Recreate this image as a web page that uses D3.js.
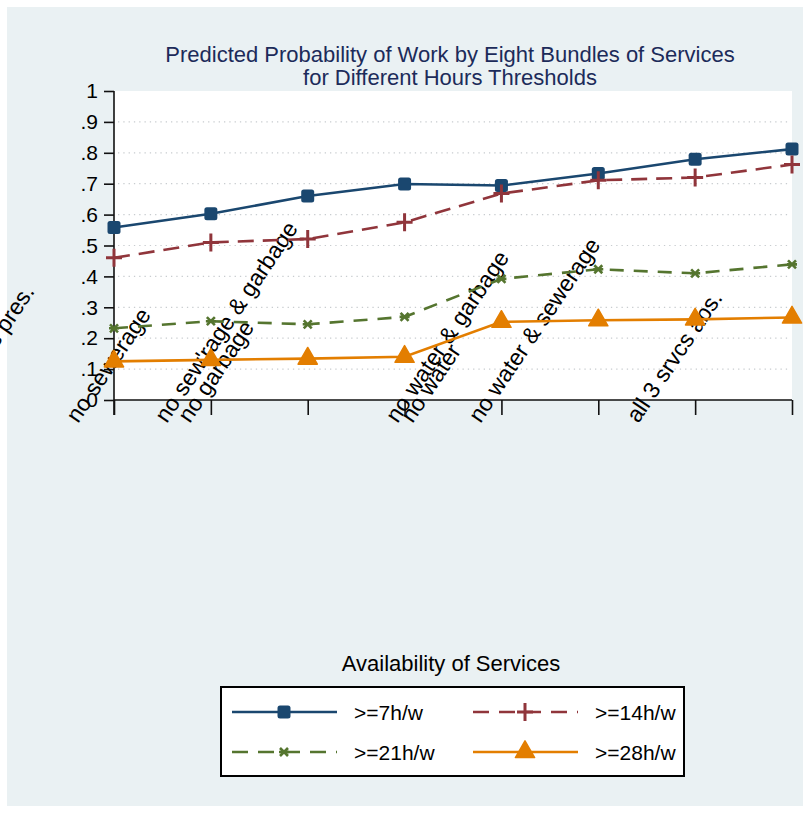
<!DOCTYPE html>
<html>
<head>
<meta charset="utf-8">
<script src="https://cdn.jsdelivr.net/npm/d3@7"></script>
<style>
  body { margin: 0; background: #ffffff; }
  text { font-family: "Liberation Sans", Arial, sans-serif; }
</style>
</head>
<body>
<div id="chart"></div>
<script>
// categories on the x axis (labels came out scrambled in the original export)
const categories = ["all 3 srvcs pres.", "no sewerage", "no garbage", "no sew'rage & garbage",
                    "no water", "no water & garbage", "no water & sewerage", "all 3 srvcs abs."];
const hrs7  = [0.558, 0.603, 0.660, 0.699, 0.694, 0.733, 0.779, 0.812];
const hrs14 = [0.460, 0.510, 0.521, 0.575, 0.668, 0.711, 0.720, 0.762];
const hrs21 = [0.232, 0.255, 0.245, 0.269, 0.392, 0.423, 0.410, 0.439];
const hrs28 = [0.125, 0.130, 0.134, 0.140, 0.253, 0.258, 0.261, 0.267];
const seriesNames = [">=7h/w", ">=14h/w", ">=21h/w", ">=28h/w"];
const yTicks = [0, 0.1, 0.2, 0.3, 0.4, 0.5, 0.6, 0.7, 0.8, 0.9, 1];
const yTickLabels = ["0", ".1", ".2", ".3", ".4", ".5", ".6", ".7", ".8", ".9", "1"];

const W = 809, H = 813;
const plot = {left: 114, right: 792, top: 91, bottom: 400};

const svg = d3.select("#chart").append("svg")
  .attr("width", W).attr("height", H);

// graph region
svg.append("rect").attr("x", 7).attr("y", 7).attr("width", 796).attr("height", 799)
  .attr("fill", "#eaf1f3");
svg.append("rect").attr("x", plot.left).attr("y", plot.top)
  .attr("width", plot.right - plot.left).attr("height", plot.bottom - plot.top)
  .attr("fill", "#ffffff");

const x = d3.scalePoint().domain(d3.range(categories.length)).range([plot.left, plot.right]);
const y = d3.scaleLinear().domain([0, 1]).range([plot.bottom, plot.top]);

// grid
svg.append("g").selectAll("line").data(yTicks.slice(1, -1)).enter().append("line")
  .attr("x1", plot.left + 4).attr("x2", plot.right - 4)
  .attr("y1", d => y(d)).attr("y2", d => y(d))
  .attr("stroke", "#c8cccf").attr("stroke-width", 1.2).attr("stroke-dasharray", "1.3,4");

// y axis
const yAxis = svg.append("g").attr("transform", `translate(${plot.left},0)`)
  .call(d3.axisLeft(y).tickValues(yTicks).tickFormat((d, i) => yTickLabels[i]).tickSize(10).tickPadding(6));
yAxis.select(".domain").attr("d", `M0,${plot.top}V${plot.bottom + 15}`).attr("stroke", "#111").attr("stroke-width", 1.6);
yAxis.selectAll(".tick line").attr("stroke", "#111").attr("stroke-width", 1.6);
yAxis.selectAll(".tick text").attr("font-size", 21).attr("fill", "#000")
  .attr("font-family", "Liberation Sans, Arial, sans-serif");

// x axis
const xAxis = svg.append("g").attr("transform", `translate(0,${plot.bottom})`)
  .call(d3.axisBottom(x).tickSize(15).tickFormat(""));
xAxis.select(".domain").attr("d", `M${plot.left},0H${plot.right}`).attr("stroke", "#111").attr("stroke-width", 1.6);
xAxis.selectAll(".tick line").attr("stroke", "#111").attr("stroke-width", 1.6);

// rotated category labels, placed where the original export left them
const labelSpots = [[0, -168], [0, -36], [1, -21], [1, -44], [3, 8], [3, -7], [4, -21], [6, -57]];
svg.append("g").selectAll("text").data(categories).enter().append("text")
  .attr("transform", (d, i) => `translate(${x(labelSpots[i][0]) + labelSpots[i][1]},424) rotate(-56)`)
  .attr("font-size", 23).attr("fill", "#000")
  .text(d => d);

// series
const series = [
  {values: hrs7,  color: "#1a476f", dash: null,    marker: "square"},
  {values: hrs14, color: "#90353b", dash: "16,9",  marker: "plus"},
  {values: hrs21, color: "#55752f", dash: "14,10", marker: "x"},
  {values: hrs28, color: "#e37e00", dash: null,    marker: "triangle"}
];

const line = d3.line().x((d, i) => x(i)).y(d => y(d));

function drawMarker(g, type, color) {
  if (type === "square") {
    g.append("rect").attr("x", -6.5).attr("y", -6.5).attr("width", 13).attr("height", 13)
      .attr("rx", 2.5).attr("fill", color);
  } else if (type === "plus") {
    g.append("path").attr("d", "M-8,0H8M0,-9V9").attr("stroke", color).attr("stroke-width", 3);
  } else if (type === "x") {
    g.append("path").attr("d", "M-4,-4L4,4M-4,4L4,-4M-5,0H5").attr("stroke", color).attr("stroke-width", 2.6);
  } else {
    g.append("path").attr("d", d3.symbol(d3.symbolTriangle, 160)()).attr("fill", color)
      .attr("stroke", color).attr("stroke-width", 1.5).attr("stroke-linejoin", "round");
  }
}

series.forEach(s => {
  svg.append("path").datum(s.values).attr("d", line)
    .attr("fill", "none").attr("stroke", s.color).attr("stroke-width", 2.6)
    .attr("stroke-dasharray", s.dash);
  svg.append("g").selectAll("g").data(s.values).enter().append("g")
    .attr("transform", (d, i) => `translate(${x(i)},${y(d)})`)
    .each(function() { drawMarker(d3.select(this), s.marker, s.color); });
});

// title
const title = svg.append("text").attr("x", 450).attr("text-anchor", "middle")
  .attr("font-size", 22).attr("fill", "#1c2b5a");
title.append("tspan").attr("x", 450).attr("y", 62).text("Predicted Probability of Work by Eight Bundles of Services");
title.append("tspan").attr("x", 450).attr("y", 85).text("for Different Hours Thresholds");

// legend
svg.append("text").attr("x", 451).attr("y", 671).attr("text-anchor", "middle")
  .attr("font-size", 22).attr("fill", "#000").text("Availability of Services");
svg.append("rect").attr("x", 221).attr("y", 687).attr("width", 463).attr("height", 89)
  .attr("fill", "#ffffff").attr("stroke", "#000").attr("stroke-width", 2);

const legX = [232, 473], legY = [712, 752];
series.forEach((s, i) => {
  const lx = legX[i % 2], ly = legY[Math.floor(i / 2)];
  svg.append("line").attr("x1", lx).attr("x2", lx + 105).attr("y1", ly).attr("y2", ly)
    .attr("stroke", s.color).attr("stroke-width", 2.6)
    .attr("stroke-dasharray", s.dash ? "16,10" : null);
  const m = svg.append("g").attr("transform", `translate(${lx + 52},${ly})`);
  drawMarker(m, s.marker, s.color);
  svg.append("text").attr("x", lx + 122).attr("y", ly + 8).attr("font-size", 21)
    .attr("fill", "#000").text(seriesNames[i]);
});
</script>
</body>
</html>
